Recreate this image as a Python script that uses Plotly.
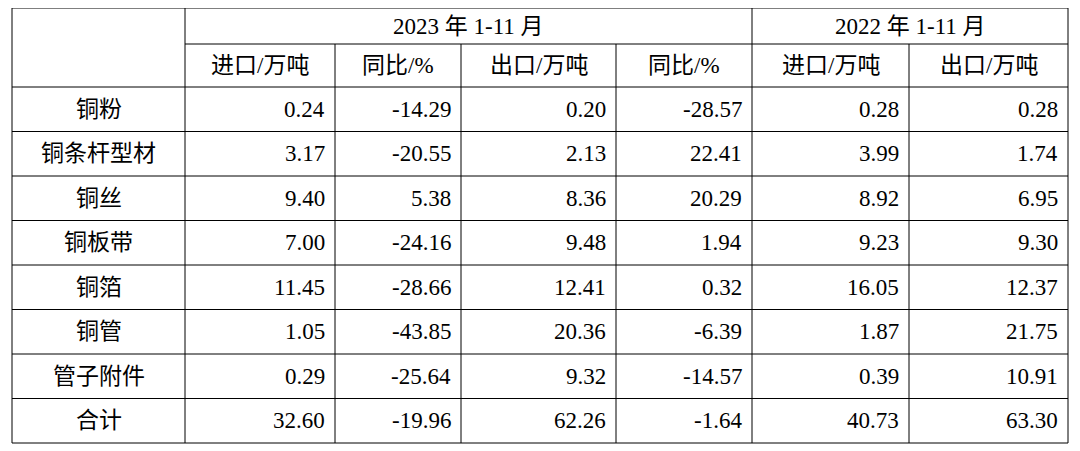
import plotly.graph_objects as go

group_headers = ["2023 年 1-11 月", "2022 年 1-11 月"]
col_headers = ["进口/万吨", "同比/%", "出口/万吨", "同比/%", "进口/万吨", "出口/万吨"]
categories = ["铜粉", "铜条杆型材", "铜丝", "铜板带", "铜箔", "铜管", "管子附件", "合计"]
imp23 = ["0.24", "3.17", "9.40", "7.00", "11.45", "1.05", "0.29", "32.60"]
imp_yoy = ["-14.29", "-20.55", "5.38", "-24.16", "-28.66", "-43.85", "-25.64", "-19.96"]
exp23 = ["0.20", "2.13", "8.36", "9.48", "12.41", "20.36", "9.32", "62.26"]
exp_yoy = ["-28.57", "22.41", "20.29", "1.94", "0.32", "-6.39", "-14.57", "-1.64"]
imp22 = ["0.28", "3.99", "8.92", "9.23", "16.05", "1.87", "0.39", "40.73"]
exp22 = ["0.28", "1.74", "6.95", "9.30", "12.37", "21.75", "10.91", "63.30"]

xb = [12, 185, 335, 461, 616, 752, 909, 1068]
yb = [8, 44, 87] + [87 + (443 - 87) * i / 8 for i in range(1, 9)]

font = dict(family="Liberation Serif, Noto Sans CJK SC", size=23, color="black")
fig = go.Figure()
shapes = []
ann = []
L = dict(color="black", width=1)
for i, y in enumerate(yb):
    x0 = xb[1] if i == 1 else xb[0]
    shapes.append(dict(type="line", x0=x0, x1=xb[-1], y0=y, y1=y, line=L))
for j, x in enumerate(xb):
    y0 = yb[1] if j in (2, 3, 4, 6) else yb[0]
    shapes.append(dict(type="line", x0=x, x1=x, y0=y0, y1=yb[-1], line=L))

def txt(x, y, s, anchor="center"):
    ann.append(dict(x=x, y=y, text=s, showarrow=False, xanchor=anchor, yanchor="middle", font=font))

txt((xb[1] + xb[5]) / 2, (yb[0] + yb[1]) / 2, group_headers[0])
txt((xb[5] + xb[7]) / 2, (yb[0] + yb[1]) / 2, group_headers[1])
for j, h in enumerate(col_headers):
    txt((xb[j + 1] + xb[j + 2]) / 2, (yb[1] + yb[2]) / 2, h)
cols = [imp23, imp_yoy, exp23, exp_yoy, imp22, exp22]
for i, c in enumerate(categories):
    yc = (yb[i + 2] + yb[i + 3]) / 2
    txt((xb[0] + xb[1]) / 2, yc, c)
    for j, col in enumerate(cols):
        txt(xb[j + 2] - 8, yc, col[i], "right")

fig.add_trace(go.Scatter(x=[100], y=[100], mode="markers", marker=dict(opacity=0), hoverinfo="skip"))
fig.update_layout(width=1080, height=451, margin=dict(l=0, r=0, t=0, b=0),
                  plot_bgcolor="white", paper_bgcolor="white", shapes=shapes, annotations=ann,
                  showlegend=False,
                  xaxis=dict(range=[8, 1088], visible=False),
                  yaxis=dict(range=[459, 8], visible=False))
fig.write_html("out.html")
